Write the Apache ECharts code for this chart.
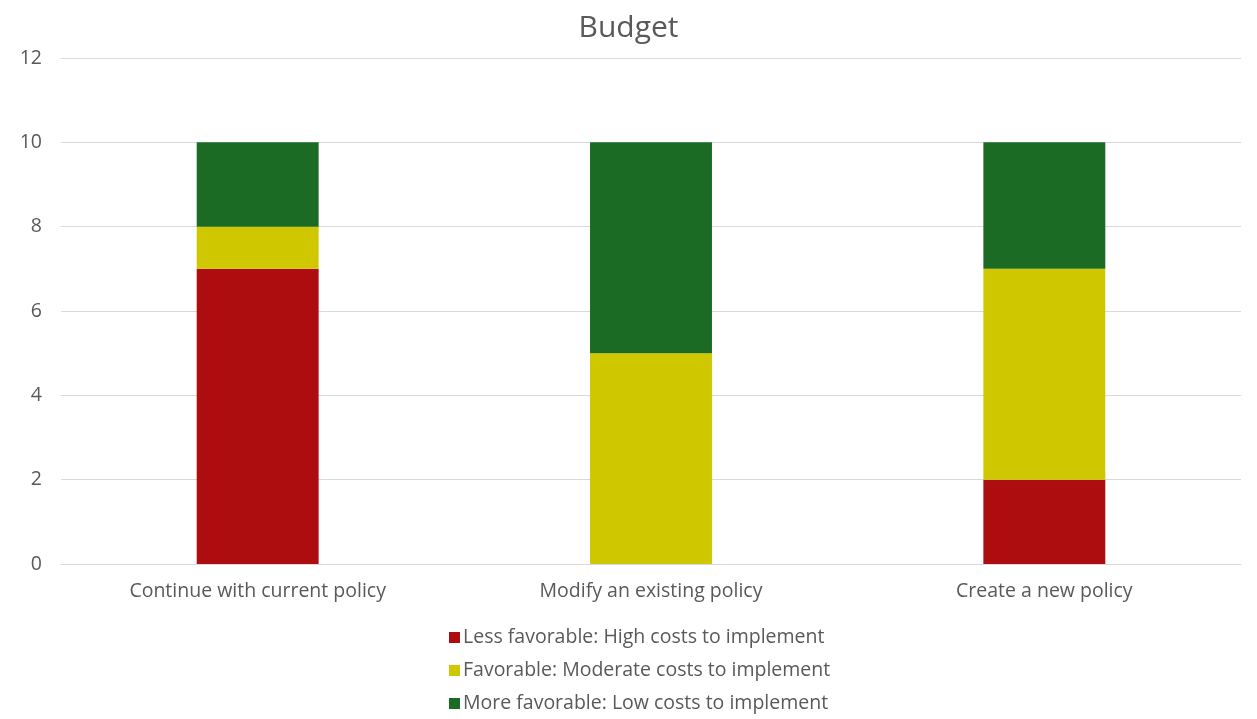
<!DOCTYPE html>
<html>
<head>
<meta charset="utf-8">
<script src="https://cdn.jsdelivr.net/npm/echarts@6/dist/echarts.min.js"></script>
<style>
  html, body { margin: 0; padding: 0; background: #fff; }
  #chart { width: 1257px; height: 719px; }
</style>
</head>
<body>
<div id="chart"></div>
<script>
// Policy options on the x axis
const categories = ['Continue with current policy', 'Modify an existing policy', 'Create a new policy'];

// Stacked counts per rating
const lessFavorable = [7, 0, 2];
const favorable = [1, 5, 5];
const moreFavorable = [2, 5, 3];

const seriesNames = [
  'Less favorable: High costs to implement',
  'Favorable: Moderate costs to implement',
  'More favorable: Low costs to implement'
];
const seriesColors = ['#AE0D0F', '#CFC800', '#1B6B25'];

const textColor = '#595959';
const fontFamily = '"Open Sans", "Noto Sans", sans-serif';

const chart = echarts.init(document.getElementById('chart'), null, { renderer: 'canvas' });

const seriesData = [lessFavorable, favorable, moreFavorable];

chart.setOption({
  animation: false,
  title: {
    text: 'Budget',
    left: 'center',
    top: 8,
    textStyle: { color: textColor, fontSize: 30, fontWeight: 'normal', fontFamily: fontFamily }
  },
  legend: {
    orient: 'vertical',
    left: 449,
    top: 627,
    padding: 0,
    itemWidth: 11,
    itemHeight: 11,
    itemGap: 12,
    icon: 'rect',
    textStyle: { color: textColor, fontSize: 19.5, fontFamily: fontFamily, padding: [0, 0, 0, -2], lineHeight: 21 },
    data: seriesNames
  },
  grid: {
    left: 61,
    right: 16,
    top: 58,
    bottom: 155,
    containLabel: false
  },
  xAxis: {
    type: 'category',
    data: categories,
    axisLine: { show: true, lineStyle: { color: '#D9D9D9', width: 1 } },
    axisTick: { show: false },
    axisLabel: { color: textColor, fontSize: 19.5, fontFamily: fontFamily, margin: 17 }
  },
  yAxis: {
    type: 'value',
    min: 0,
    max: 12,
    interval: 2,
    axisLine: { show: false },
    axisTick: { show: false },
    splitLine: { lineStyle: { color: '#D9D9D9', width: 1 } },
    axisLabel: { color: textColor, fontSize: 19.5, fontFamily: fontFamily, margin: 19 }
  },
  series: seriesNames.map((name, i) => ({
    name: name,
    type: 'bar',
    stack: 'total',
    barWidth: '31%',
    data: seriesData[i],
    itemStyle: { color: seriesColors[i] }
  }))
});
</script>
</body>
</html>
